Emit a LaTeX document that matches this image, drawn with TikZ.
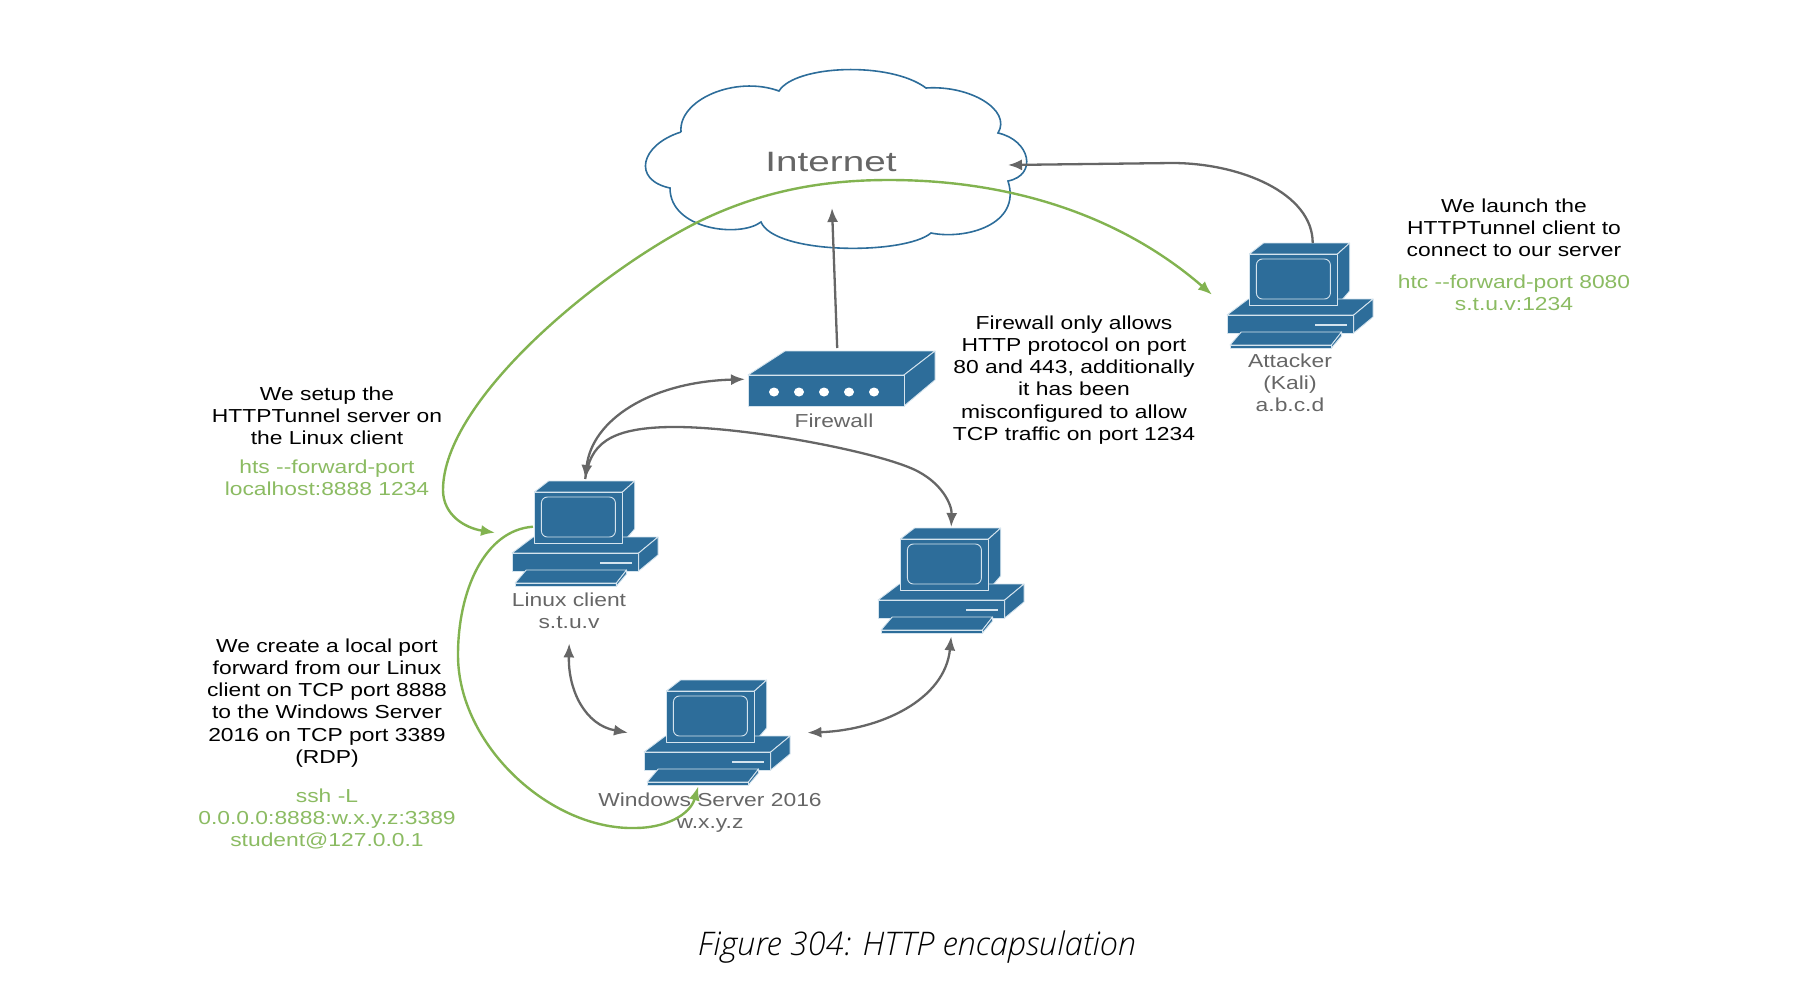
\documentclass[tikz,border=0pt]{standalone}
\usepackage{fontspec}
\setmainfont[FakeStretch=1.215]{Liberation Sans}
\newfontfamily\bigfont[FakeStretch=1.38]{Liberation Sans}
\newfontfamily\capfont[ItalicFont={Open Sans Light Italic}]{Open Sans}
\usetikzlibrary{arrows.meta}
\usetikzlibrary{positioning, calc}

\definecolor{iconblue}{HTML}{2D6D9A}
\definecolor{edgeblue}{HTML}{D5E4EE}
\definecolor{linegray}{HTML}{666666}
\definecolor{linegreen}{HTML}{82B350}
\definecolor{textgreen}{HTML}{8BBB62}

\begin{document}
\begin{tikzpicture}[
    x=1pt, y=-1pt,
    >={Latex[length=14pt,width=11pt]},
    face/.style={fill=iconblue, draw=edgeblue, line width=.9pt, line join=round},
    box/.style={inner sep=0pt, minimum width=146pt, minimum height=105pt, anchor=north west},
    note/.style={align=center, font=\fontsize{18.8}{22.2}\selectfont, inner sep=0pt},
    label/.style={note, text=linegray},
    cmd/.style={note, text=textgreen},
    gray link/.style={linegray, line width=2.3pt},
    green link/.style={linegreen, line width=2.4pt},
    computer/.pic={
        \draw[face] (22,11) -- (36,0) -- (121,0) -- (109,11) -- cycle;
        \draw[face] (109,11) -- (121,0) -- (121,48) -- (109,62) -- cycle;
        \draw[face] (0,72) -- (21,56) -- (126,56) -- (144,56) -- (125,72) -- cycle;
        \draw[face] (22,11) rectangle (109,62);
        \draw[face, rounded corners=6pt] (29,16) rectangle (102,56);
        \draw[face] (0,72) rectangle (125,90);
        \draw[face] (125,72) -- (144,56) -- (144,74) -- (125,90) -- cycle;
        \draw[edgeblue, line width=1.2pt] (87,82) -- (118,82);
        \draw[face] (3,102) -- (14,89) -- (113,89) -- (103,102) -- cycle;
        \draw[face] (3,102) rectangle (103,105);
        \draw[face] (103,102) -- (113,89) -- (113,93) -- (103,105) -- cycle;
    }
]
    \useasboundingbox (0,0) rectangle (1816,986);

    % cloud
    \draw[iconblue, line width=1.6pt] (681,132)
        .. controls (678,100) and (735,75) .. (779,91)
        .. controls (795,65) and (890,61) .. (926,88)
        .. controls (970,85) and (1012,110) .. (998,133)
        .. controls (1030,140) and (1038,175) .. (1008,181)
        .. controls (1022,225) and (965,240) .. (931,233)
        .. controls (905,255) and (775,255) .. (761,222)
        .. controls (740,238) and (670,230) .. (670,188)
        .. controls (632,180) and (640,145) .. (681,132);
    \node[text=linegray, font=\bigfont\fontsize{28}{30}\selectfont, inner sep=0pt] (internet) at (831,162) {Internet};

    % computers
    \foreach \name/\x/\y in {linux/512/481, windows/644/680, server/878/528, attacker/1227/243} {
        \node[box] (\name) at (\x,\y) {};
        \pic[xscale=1.014] at (\name.north west) {computer};
    }

    % firewall
    \node[inner sep=0pt, minimum width=186pt, minimum height=54pt, anchor=north west] (firewall) at (748,352) {};
    \draw[face] (748,375) -- (785,351) -- (935,351) -- (904,375) -- cycle;
    \draw[face] (904,375) -- (935,351) -- (935,380) -- (904,406) -- cycle;
    \draw[face] (748,375) rectangle (904,406);
    \foreach \x in {774, 799, 824, 849, 874} {
        \fill[white] (\x,392) ellipse (5pt and 4.5pt);
    }

    % labels
    \node[label] (firewall label) at (834,421) {Firewall};
    \node[label] (attacker label) at (1290,383) {Attacker\\(Kali)\\a.b.c.d};
    \node[label] (linux label) at (569,611) {Linux client\\s.t.u.v};
    \node[label] (windows label) at (710,813) {Windows Server 2016\\w.x.y.z};

    % notes
    \node[note] (note firewall) at (1074,380) {Firewall only allows\\HTTP protocol on port\\80 and 443, additionally\\it has been\\misconfigured to allow\\TCP traffic on port 1234};
    \node[note] (note attacker) at (1514,228) {We launch the\\HTTPTunnel client to\\connect to our server};
    \node[cmd] (cmd attacker) at (1514,293) {htc -{}-forward-port 8080\\s.t.u.v:1234};
    \node[note] (note server) at (327,416) {We setup the\\HTTPTunnel server on\\the Linux client};
    \node[cmd] (cmd server) at (327,478) {hts -{}-forward-port\\localhost:8888 1234};
    \node[note] (note forward) at (327,703) {We create a local port\\forward from our Linux\\client on TCP port 8888\\to the Windows Server\\2016 on TCP port 3389\\(RDP)};
    \node[cmd] (cmd forward) at (327,819) {ssh -L\\0.0.0.0:8888:w.x.y.z:3389\\student@127.0.0.1};

    \node[font=\capfont\itshape\fontsize{32.5}{36}\selectfont, text=black] (caption) at (917,947) {Figure 304: HTTP encapsulation};

    % connectors
    \draw[gray link, ->] ($(firewall.north) +(-4, -4) $) to ($(internet) +(1, 46) $);
    \draw[gray link, ->] ($(attacker.north) +(12.5, 0) $) .. controls +(0,-50) and (1240,163) .. (1172,163) -- ($(internet) +(177, 3) $);
    \draw[gray link, <->] ($(linux.north) +(0, -2) $) .. controls (592,420) and (650,382) .. ($(firewall.west) +(-3, 0) $);
    \draw[gray link, ->] ($(linux.north) +(0, -2) $) .. controls (590,445) and (608,428) .. (670,427)
        .. controls (740,426) and (870,450) .. (913,469)
        .. controls (942,482) and (952,505) .. ($(server.north) +(0, -1) $);
    \draw[gray link, <->] ($(linux.south) +(-16, 57) $) .. controls (568,690) and (585,725) .. ($(windows.west) +(-16, 0) $);
    \draw[gray link, <->] ($(windows.east) +(17, 0) $) .. controls (880,730) and (945,700) .. ($(server.south) +(0, 3) $);

    \draw[green link, <->] ($(linux.west) +(-17, -1) $) .. controls (465,528) and (443,515) .. (443,490)
        .. controls (443,400) and (600,270) .. (702,220)
        .. controls (765,190) and (825,180) .. (889,180)
        .. controls (1010,180) and (1120,215) .. ($(attacker.west) +(-15, -1) $);
    \draw[green link, ->] ($(linux.west) +(21, -7) $) .. controls (485,530) and (458,590) .. (458,655)
        .. controls (458,745) and (550,830) .. (635,828)
        .. controls (665,828) and (690,815) .. ($(windows.south) +(-19, 1) $);
\end{tikzpicture}
\end{document}
